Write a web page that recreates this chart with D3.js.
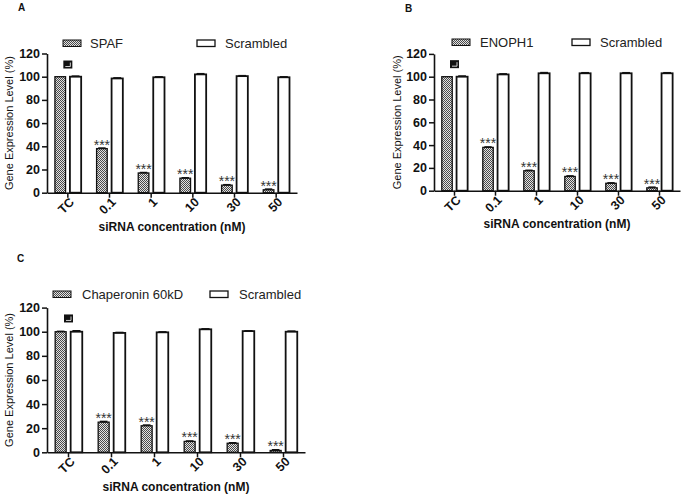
<!DOCTYPE html>
<html><head><meta charset="utf-8">
<script src="https://cdn.jsdelivr.net/npm/d3@7/dist/d3.min.js"></script>
<style>body{margin:0;background:#fff}svg{display:block}text{font-family:"Liberation Sans",Arial,sans-serif}</style>
</head><body>
<script>
const categories = ["TC","0.1","1","10","30","50"];
const yTicks = [0,20,40,60,80,100,120];
const seriesNames = ["SPAF","ENOPH1","Chaperonin 60kD"];
const controlName = "Scrambled";
const panelLabels = ["A","B","C"];
const spafValues = [100,38,17,12.5,6.5,2.5];
const spafErr = [0,0.5,0.4,0.4,0.4,0.6];
const spafScrambled = [100,98.5,99.5,102,100.5,99.5];
const spafScrErr = [0.5,0.5,0.4,0.6,0.4,0.4];
const enophValues = [100,38,17.5,12.5,6.5,2.5];
const enophErr = [0,0.4,0.4,0.5,0.4,0.6];
const enophScrambled = [100,102,103,103,103,103];
const enophScrErr = [0.6,0.5,0.6,0.5,0.5,0.5];
const chapValues = [100,25,22,9,7.5,1.5];
const chapErr = [0.3,0.6,0.6,0.4,0.4,0.6];
const chapScrambled = [100,99,99.5,102,100.5,100];
const chapScrErr = [0.8,0.4,0.4,0.4,0.3,0.5];
const markerValue = [110.5,111,111];
const starLabel = "***";

const panels = [
 {label:panelLabels[0],name:seriesNames[0],vals:spafValues,err:spafErr,scr:spafScrambled,scrErr:spafScrErr,mk:markerValue[0],
  x0:47,x1:297,y0:192.7,y120:53.5,lab:[18,11],leg:{y:40,s1:63,t1:90,s2:197,t2:225},ytx:12.5,xtY:231},
 {label:panelLabels[1],name:seriesNames[1],vals:enophValues,err:enophErr,scr:enophScrambled,scrErr:enophScrErr,mk:markerValue[1],
  x0:434,x1:680,y0:190.7,y120:53.9,lab:[405,12],leg:{y:39,s1:452,t1:480,s2:572,t2:600},ytx:401,xtY:228},
 {label:panelLabels[2],name:seriesNames[2],vals:chapValues,err:chapErr,scr:chapScrambled,scrErr:chapScrErr,mk:markerValue[2],
  x0:47,x1:305,y0:452.3,y120:307.6,lab:[17,262],leg:{y:291,s1:53,t1:82,s2:210,t2:239},ytx:12.5,xtY:491}
];

const svg = d3.select("body").append("svg").attr("width",683).attr("height",495);
const defs = svg.append("defs");
const pat = defs.append("pattern").attr("id","hatch").attr("patternUnits","userSpaceOnUse").attr("width",2).attr("height",2);
pat.append("rect").attr("width",2).attr("height",2).attr("fill","#e2e2e2");
pat.append("rect").attr("width",1).attr("height",1).attr("fill","#4a4a4a");
pat.append("rect").attr("x",1).attr("y",1).attr("width",1).attr("height",1).attr("fill","#4a4a4a");

panels.forEach(p=>{
  const g = svg.append("g");
  const x = d3.scaleBand().domain(categories).range([p.x0,p.x1]);
  const y = d3.scaleLinear().domain([0,120]).range([p.y0,p.y120]);
  const bw = x.bandwidth();
  const hx = c => x(c)+bw/2 - 0.31*bw, hw = 0.255*bw;
  const sx = c => x(c)+bw/2 + 0.05*bw, sw = 0.27*bw;

  const ya = d3.axisLeft(y).tickValues(yTicks).tickSize(5).tickSizeOuter(0);
  const yg = g.append("g").attr("transform",`translate(${p.x0},0)`).call(ya);
  yg.select(".domain").attr("stroke","#111").attr("stroke-width",1.6);
  yg.selectAll(".tick line").attr("stroke","#111").attr("stroke-width",1.5);
  yg.selectAll(".tick text").attr("font-size",12.5).attr("font-weight","bold").attr("fill","#111").attr("x",-7).attr("font-family","Liberation Sans, Arial");
  const xa = d3.axisBottom(x).tickSize(5).tickSizeOuter(0);
  const xg = g.append("g").attr("transform",`translate(0,${p.y0})`).call(xa);
  xg.select(".domain").attr("stroke","#111").attr("stroke-width",1.6);
  xg.selectAll(".tick line").attr("stroke","#111").attr("stroke-width",1.5);
  xg.selectAll(".tick text").attr("font-size",12.5).attr("font-weight","bold").attr("fill","#111")
    .attr("font-family","Liberation Sans, Arial")
    .attr("text-anchor","end").attr("y",0).attr("dy","0.35em")
    .attr("transform","translate(4,7) rotate(-45)");

  g.selectAll(".hb").data(categories).join("rect")
    .attr("x",c=>hx(c)).attr("width",hw)
    .attr("y",(c,i)=>y(p.vals[i])).attr("height",(c,i)=>p.y0-y(p.vals[i]))
    .attr("fill","url(#hatch)").attr("stroke","#111").attr("stroke-width",1.3);
  g.selectAll(".sb").data(categories).join("rect")
    .attr("x",c=>sx(c)).attr("width",sw)
    .attr("y",(c,i)=>y(p.scr[i])).attr("height",(c,i)=>p.y0-y(p.scr[i]))
    .attr("fill","#fff").attr("stroke","#111").attr("stroke-width",1.8);
  const eb = (cx,v,e,w)=>{
    if(!e) return;
    g.append("line").attr("x1",cx).attr("x2",cx).attr("y1",y(v+e)).attr("y2",y(v)).attr("stroke","#111").attr("stroke-width",1.3);
    g.append("line").attr("x1",cx-w/2).attr("x2",cx+w/2).attr("y1",y(v+e)).attr("y2",y(v+e)).attr("stroke","#111").attr("stroke-width",1.5);
  };
  categories.forEach((c,i)=>{
    eb(hx(c)+hw/2,p.vals[i],p.err[i],hw*0.7);
    eb(sx(c)+sw/2,p.scr[i],p.scrErr[i],sw*0.7);
  });
  g.selectAll(".st").data(categories.slice(1)).join("text")
    .attr("x",c=>hx(c)+hw/2).attr("y",(c)=>y(p.vals[categories.indexOf(c)]+p.err[categories.indexOf(c)])+1.5)
    .attr("text-anchor","middle").attr("font-size",14).attr("fill","#333").text(starLabel);
  const mcx = x("TC")+bw/2, mcy = y(p.mk);
  g.append("rect").attr("x",mcx-4.5).attr("y",mcy-4).attr("width",9).attr("height",8).attr("fill","#111");
  g.append("polyline").attr("points",`${mcx+2.5},${mcy-2} ${mcx+2.5},${mcy+2} ${mcx-2.5},${mcy+2}`)
    .attr("fill","none").attr("stroke","#fff").attr("stroke-width",0.8);

  const L = p.leg;
  g.append("rect").attr("x",L.s1).attr("y",L.y).attr("width",18).attr("height",6.5).attr("fill","url(#hatch)").attr("stroke","#111").attr("stroke-width",1);
  g.append("text").attr("x",L.t1).attr("y",L.y+7.5).attr("font-size",13).attr("fill","#222").text(p.name);
  g.append("rect").attr("x",L.s2).attr("y",L.y).attr("width",18).attr("height",6.5).attr("fill","#fff").attr("stroke","#111").attr("stroke-width",1.3);
  g.append("text").attr("x",L.t2).attr("y",L.y+7.5).attr("font-size",13).attr("fill","#222").text(controlName);

  g.append("text").attr("transform",`translate(${p.ytx},${(p.y0+p.y120)/2}) rotate(-90)`)
    .attr("text-anchor","middle").attr("font-size",11).attr("fill","#111").text("Gene Expression Level (%)");
  g.append("text").attr("x",(p.x0+p.x1)/2).attr("y",p.xtY).attr("text-anchor","middle")
    .attr("font-size",12).attr("font-weight","bold").attr("fill","#111").text("siRNA concentration (nM)");
  g.append("text").attr("x",p.lab[0]).attr("y",p.lab[1]).attr("font-size",10).attr("font-weight","bold").attr("fill","#111").text(p.label);
});
</script>
</body></html>
